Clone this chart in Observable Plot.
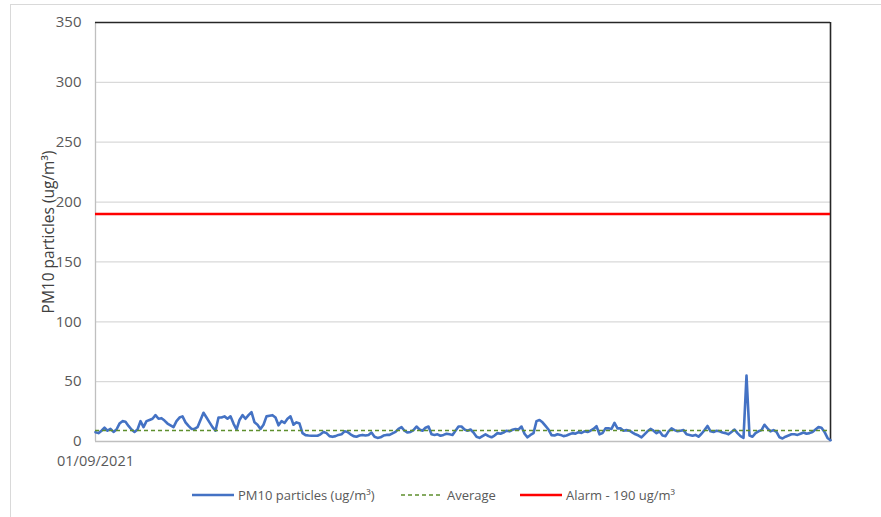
<!DOCTYPE html>
<html><head><meta charset="utf-8">
<script src="https://cdn.jsdelivr.net/npm/d3@7"></script>
<script src="https://cdn.jsdelivr.net/npm/@observablehq/plot@0.6"></script>
<style>
body{margin:0;background:#fff;font-family:"Open Sans",sans-serif;}
#wrap{position:relative;width:881px;height:517px;overflow:hidden;background:#fff;}
#border{position:absolute;left:10px;top:4px;width:900px;height:540px;border:1px solid #d9d9d9;box-sizing:border-box;}
#chart{position:absolute;left:0;top:0;}
.leg{position:absolute;top:486px;height:18px;display:flex;align-items:center;font-size:13px;color:#595959;white-space:nowrap;}
.leg svg{margin-right:4px;}
</style></head>
<body><div id="wrap"><div id="border"></div><div id="chart"></div></div>
<script>
// PM10 readings starting 01/09/2021 (ug/m³)
const pm10Values = [
  7.8,7,9,11.5,9,10.5,8,10,15,17, 16.5,13,10,8,10,17,12,17,18,19,
  22,19,19.5,17.5,15,13.5,12,17,20,21, 16,13,10.5,10.5,12,18,24,20,16,12,
  9,20,20,21,19,21,15,10,18,22,
  19,22,24.5,16,14,10.5,14,21,21.5,22, 20,13.5,17,15.5,19,21,14,16,15,7,
  5.3,5,4.8,4.8,4.8,6,8,7,4.5,3.9, 4.5,5.5,6,8.5,8,6,4.5,4,5,5.5,
  5,5.5,7.5,4,3,3.5,5,5.5,5.5,
  6.8,8,10.6,12,9,7.5,8,9.5,12.5,10, 9,11.5,12.5,6,5.5,6,4.8,5.5,6.5,6,
  5.5,9,12.5,12.5,10,9,10,7.5,4,3, 4.5,6,4.5,3.5,5,7,6.5,7.5,9,8.5,
  9.8,10.5,10,12.5,6.5,3.5,5.5,7,17,
  18,16,13,10,5.3,5,6,5.5,4.5,5, 6,7,6.5,7.8,7.2,8.5,8,9,10.5,12.8,
  6,7,11,11,10.5,15.5,11,11,9,9.5, 9,7.5,6,5,3.5,6,8.5,10.5,9,7,
  8.5,5,4.5,8.5,11,9.5,8.5,9,9.5,
  6,5.5,4.8,5.5,4,6.5,9.5,13,8.5,8, 9,8.5,7.5,7,6,8,10,7,4.5,3,
  55,5,4,7,8.5,9.5,14,11,8.5,9.5, 8,3.5,2.5,4,5,6,6,5.5,6.5,7.5,
  6.5,7,8,10,12,11.5,8,3,1
];
const averageValue = 9.2;
const alarmValue = 190;
const yTicks = [0, 50, 100, 150, 200, 250, 300, 350];
const xTickLabels = ["01/09/2021"];
const yLabel = "PM10 particles (ug/m³)";
const seriesNames = ["PM10 particles (ug/m³)", "Average", "Alarm - 190 ug/m³"];
const seriesColors = ["#4472c4", "#5e8f2e", "#ff0000"];

const rows = pm10Values.map((v, i) => ({i, v}));
const last = pm10Values.length - 1;

const plot = Plot.plot({
  width: 881, height: 475,
  marginTop: 22, marginBottom: 34, marginLeft: 95, marginRight: 51,
  style: {fontFamily: "Open Sans", fontSize: "15px", color: "#595959", background: "transparent"},
  x: {domain: [0, last]},
  y: {domain: [0, 350]},
  marks: [
    Plot.gridY(yTicks.slice(1, -1), {stroke: "#d9d9d9", strokeOpacity: 1, strokeWidth: 1.2}),
    Plot.ruleY([0], {stroke: "#bfbfbf", strokeWidth: 1.3}),
    Plot.ruleX([0], {stroke: "#bfbfbf", strokeWidth: 1.3}),
    Plot.ruleY([350], {stroke: "#262626", strokeWidth: 1.6}),
    Plot.ruleX([last], {stroke: "#262626", strokeWidth: 1.6}),
    Plot.axisY(yTicks, {tickSize: 0, tickPadding: 14, fontSize: 15, label: null}),
    Plot.axisY({tickSize: 0, ticks: [], fontSize: 15.5, label: yLabel, labelAnchor: "center", labelArrow: "none", labelOffset: 53, color: "#404040"}),
    Plot.axisX([0], {tickSize: 0, tickPadding: 14, fontSize: 14.5, tickFormat: () => xTickLabels[0], label: null}),
    Plot.line(rows, {x: "i", y: "v", stroke: seriesColors[0], strokeWidth: 2.6, strokeLinejoin: "round"}),
    Plot.ruleY([averageValue], {stroke: seriesColors[1], strokeWidth: 1.6, strokeDasharray: "4,3"}),
    Plot.ruleY([alarmValue], {stroke: seriesColors[2], strokeWidth: 2.6})
  ]
});
document.getElementById("chart").appendChild(plot);

// legend below the chart
const legendLeft = [192, 401, 520];
const dashes = [null, "4,3", null];
const widths = [2.6, 1.6, 2.6];
const wrap = document.getElementById("wrap");
seriesNames.forEach((name, k) => {
  const d = document.createElement("div");
  d.className = "leg";
  d.style.left = legendLeft[k] + "px";
  d.innerHTML = `<svg width="42" height="10"><line x1="0" x2="42" y1="5" y2="5" stroke="${seriesColors[k]}" stroke-width="${widths[k]}" ${dashes[k] ? `stroke-dasharray="${dashes[k]}"` : ""}/></svg><span>${name}</span>`;
  wrap.appendChild(d);
});
</script>
</body></html>
